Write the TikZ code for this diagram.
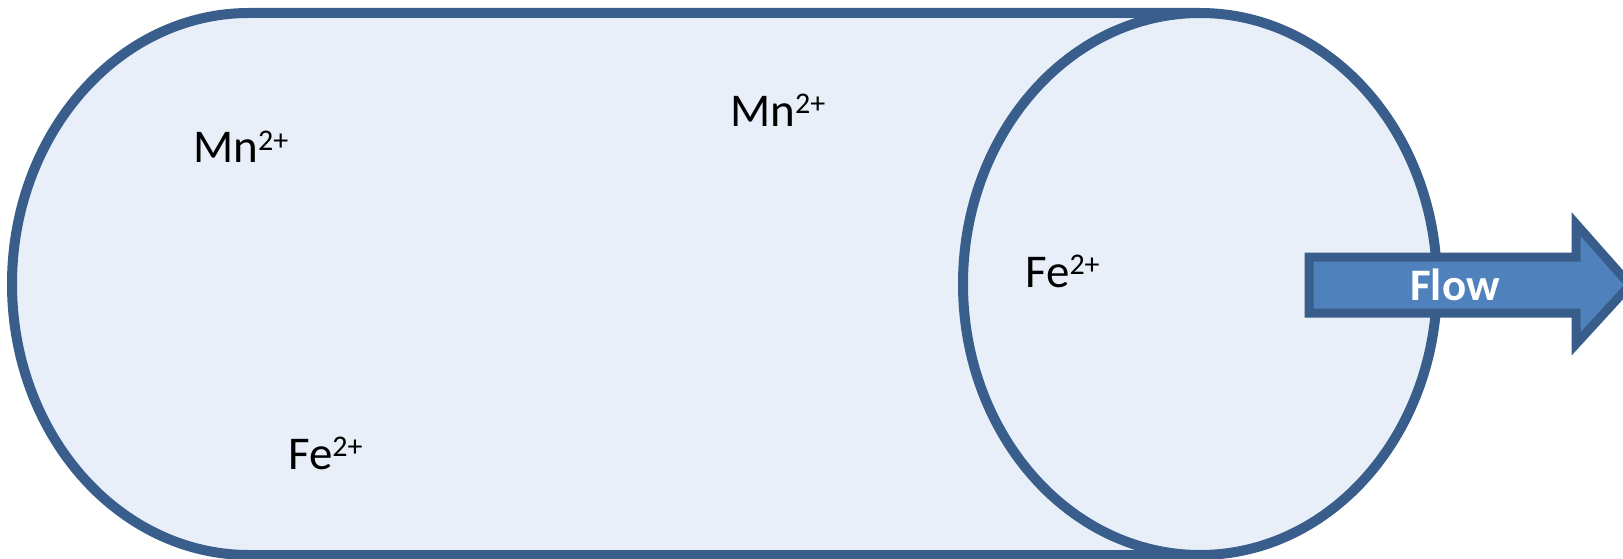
\documentclass[tikz,border=0pt]{standalone}
\usepackage{fontspec}
\setmainfont{Carlito}
\definecolor{tubeline}{RGB}{58,94,140}
\definecolor{tubefill}{RGB}{233,239,248}
\definecolor{arrowfill}{RGB}{79,129,189}
\definecolor{arrowline}{RGB}{56,93,138}
\newcommand{\ionsup}[1]{\raisebox{13pt}{\fontsize{30}{30}\selectfont #1}}
\begin{document}
\begin{tikzpicture}[x=1pt,y=-1pt,
  tube/.style={draw=tubeline,fill=tubefill,line width=10pt},
  ion/.style={inner sep=0pt,anchor=base west,font=\fontsize{47}{47}\selectfont},
  flowarrow/.style={draw=arrowline,fill=arrowfill,line width=9pt,line join=miter}]
\useasboundingbox (0,0) rectangle (1623,559);
\clip (0,0) rectangle (1623,559);
% tube body
\path[tube] (1200,13) -- (249,13) arc[start angle=270,end angle=90,x radius=237,y radius=271] -- (1200,555);
% front opening
\draw[tube] (1200,284) ellipse[x radius=237,y radius=271];
% ions
\node[ion] (mn1) at (193,163) {Mn\ionsup{2+}};
\node[ion] (mn2) at (730,127) {Mn\ionsup{2+}};
\node[ion] (fe1) at (1025,287) {Fe\ionsup{2+}};
\node[ion] (fe2) at (288,469) {Fe\ionsup{2+}};
% flow arrow
\path[flowarrow] (1309,257) -- (1576,257) -- (1576,224) -- (1630,285) -- (1576,344) -- (1576,313) -- (1309,313) -- cycle;
\node[inner sep=0pt,anchor=base,text=white,font=\fontsize{45}{45}\selectfont\bfseries] (flow) at (1455,300) {Flow};
\end{tikzpicture}
\end{document}
